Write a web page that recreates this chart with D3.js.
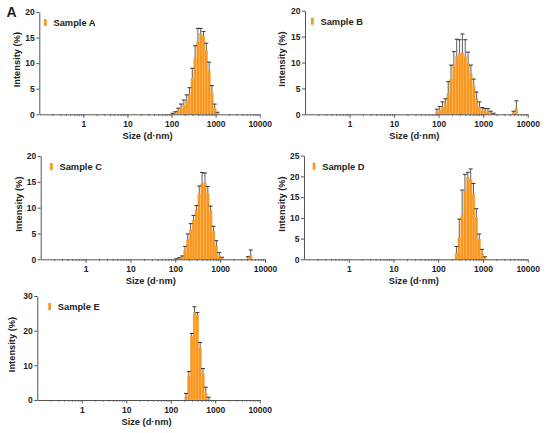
<!DOCTYPE html>
<html><head><meta charset="utf-8">
<script src="https://cdn.jsdelivr.net/npm/d3@7"></script>
<style>
body{margin:0;background:#fff}
svg{display:block}
text{font-family:"Liberation Sans",Arial,sans-serif;font-weight:bold;fill:#222}
</style>
</head><body><svg id="c" width="550" height="433"></svg>
<script>
const sampleNames = ["Sample A", "Sample B", "Sample C", "Sample D", "Sample E"];

const sizesA = [105.7, 122.4, 141.8, 164.2, 190.1, 220.2, 255.0, 295.3, 342.0, 396.1, 458.7, 531.2, 615.1, 712.4, 825.0, 955.4, 1106];
const meanA  = [0.1, 0.3, 0.7, 1.2, 1.8, 2.6, 4.0, 7.0, 11.0, 14.2, 15.8, 15.3, 12.5, 8.5, 4.2, 1.2, 0.2];
const sdA    = [0.1, 0.2, 0.5, 0.8, 1.0, 1.2, 1.2, 2.0, 2.4, 2.6, 1.0, 0.9, 1.4, 1.7, 1.4, 0.8, 0.2];

const sizesB = [91.3, 105.7, 122.4, 141.8, 164.2, 190.1, 220.2, 255.0, 295.3, 342.0, 396.1, 458.7, 531.2, 615.1, 712.4, 825.0, 955.4, 1106, 1281, 1484, 1718, 4801, 5560];
const meanB  = [0.5, 0.8, 1.4, 2.2, 4.0, 6.8, 9.5, 11.2, 11.8, 11.9, 11.2, 9.9, 7.8, 5.4, 3.0, 1.4, 0.8, 0.7, 0.6, 0.3, 0.1, 0.3, 1.2];
const sdB    = [0.5, 0.7, 1.0, 0.8, 2.3, 2.7, 2.6, 3.3, 2.6, 3.6, 3.2, 2.1, 1.7, 1.4, 1.3, 1.0, 0.5, 0.4, 0.5, 0.3, 0.1, 0.3, 1.4];

const sizesC = [105.7, 122.4, 141.8, 164.2, 190.1, 220.2, 255.0, 295.3, 342.0, 396.1, 458.7, 531.2, 615.1, 712.4, 825.0, 955.4, 1106, 4145, 4801];
const meanC  = [0.05, 0.15, 0.4, 1.8, 3.9, 5.8, 7.6, 9.6, 12.6, 14.6, 14.8, 12.8, 9.4, 5.5, 2.6, 0.8, 0.2, 0.2, 0.8];
const sdC    = [0.05, 0.15, 0.25, 0.7, 1.0, 1.1, 0.9, 0.8, 1.6, 2.2, 1.9, 1.3, 0.9, 0.9, 1.0, 0.5, 0.2, 0.3, 1.0];

const sizesD = [255.0, 295.3, 342.0, 396.1, 458.7, 531.2, 615.1, 712.4, 825.0, 955.4, 1106];
const meanD  = [1.5, 5.2, 10.5, 16.3, 19.7, 19.2, 15.8, 10.2, 4.9, 1.6, 0.3];
const sdD    = [1.6, 4.5, 6.2, 4.2, 1.3, 2.6, 2.5, 2.0, 1.2, 0.8, 0.3];

const sizesE = [220.2, 255.0, 295.3, 342.0, 396.1, 458.7, 531.2, 615.1, 712.4];
const meanE  = [0.9, 7.0, 18.3, 25.3, 24.6, 15.2, 7.6, 1.9, 0.4];
const sdE    = [1.0, 1.2, 0.9, 1.6, 0.6, 1.4, 1.5, 1.8, 0.4];

const xTickValues = [1, 10, 100, 1000, 10000];
const yTicksABC = [0, 5, 10, 15, 20];
const yTicksD = [0, 5, 10, 15, 20, 25];
const yTicksE = [0, 10, 20, 30];
const yMaxes = [20, 20, 20, 25, 30];

const seriesSizes = [sizesA, sizesB, sizesC, sizesD, sizesE];
const seriesMeans = [meanA, meanB, meanC, meanD, meanE];
const seriesSds = [sdA, sdB, sdC, sdD, sdE];
const seriesYTicks = [yTicksABC, yTicksABC, yTicksABC, yTicksD, yTicksE];

// layout (pixels)
const layouts = [
  {x0: 39.3, x1: 259.7, yTop: 12,    yBot: 114.3, legX: 44,    titleX: 16.5},
  {x0: 305,  x1: 527.7, yTop: 10.7,  yBot: 114.3, legX: 311,   titleX: 282},
  {x0: 40.7, x1: 265,   yTop: 156,   yBot: 259.3, legX: 50,    titleX: 19},
  {x0: 304,  x1: 527.7, yTop: 155.7, yBot: 259.3, legX: 312.7, titleX: 281.5},
  {x0: 37.3, x1: 259.7, yTop: 296,   yBot: 400,   legX: 48.3,  titleX: 11.5}
];

const svg = d3.select("#c");
const barFill = "#F9961E";
const axisColor = "#555";
const binRatio = 1.1583; // log-spaced bin ratio

svg.append("text").attr("x", 6.5).attr("y", 16.5).style("font-size", "14px").text("A");

layouts.forEach((L, i) => {
  const g = svg.append("g");
  const x = d3.scaleLog().domain([0.1, 10000]).range([L.x0, L.x1]);
  const y = d3.scaleLinear().domain([0, yMaxes[i]]).range([L.yBot, L.yTop]);
  const sizes = seriesSizes[i], means = seriesMeans[i], sds = seriesSds[i];
  const data = sizes.map((s, k) => ({s, m: means[k], sd: sds[k]}));

  // bars
  g.selectAll("rect.bar").data(data).join("rect")
    .attr("class", "bar")
    .attr("x", d => x(d.s / Math.sqrt(binRatio)))
    .attr("width", d => x(d.s * Math.sqrt(binRatio)) - x(d.s / Math.sqrt(binRatio)))
    .attr("y", d => y(d.m))
    .attr("height", d => L.yBot - y(d.m))
    .attr("fill", barFill)
    .attr("stroke", "#FBBE6E")
    .attr("stroke-width", 0.35);

  // error bars
  const eb = g.selectAll("g.eb").data(data).join("g").attr("class", "eb");
  eb.append("line")
    .attr("x1", d => x(d.s)).attr("x2", d => x(d.s))
    .attr("y1", d => y(d.m)).attr("y2", d => y(d.m + d.sd))
    .attr("stroke", "#333").attr("stroke-width", 0.8);
  eb.append("line")
    .attr("x1", d => x(d.s) - 2).attr("x2", d => x(d.s) + 2)
    .attr("y1", d => y(d.m + d.sd)).attr("y2", d => y(d.m + d.sd))
    .attr("stroke", "#333").attr("stroke-width", 1);

  // y axis
  const ya = g.append("g").attr("transform", `translate(${L.x0},0)`)
    .call(d3.axisLeft(y).tickValues(seriesYTicks[i]).tickSize(3).tickSizeOuter(0).tickPadding(1.5));
  ya.select(".domain").attr("stroke", axisColor).attr("stroke-width", 1);
  ya.selectAll(".tick line").attr("stroke", axisColor);
  ya.selectAll(".tick text").style("font-size", "8.5px").style("font-family", '"Liberation Sans",Arial,sans-serif').style("font-weight", "bold").attr("fill", "#222");

  // x axis minor ticks
  const minor = [];
  for (let dec = 0.1; dec < 10000; dec *= 10) {
    for (let m = 2; m <= 9; m++) minor.push(dec * m);
  }
  const xm = g.append("g").attr("transform", `translate(0,${L.yBot})`)
    .call(d3.axisBottom(x).tickValues(minor).tickSize(1.8).tickSizeOuter(0).tickFormat(""));
  xm.select(".domain").remove();
  xm.selectAll(".tick line").attr("stroke", axisColor).attr("stroke-width", 0.8);

  // x axis major
  const xa = g.append("g").attr("transform", `translate(0,${L.yBot})`)
    .call(d3.axisBottom(x).tickValues(xTickValues).tickSize(3.5).tickSizeOuter(0).tickPadding(3).tickFormat(d3.format("d")));
  xa.select(".domain").attr("stroke", axisColor).attr("stroke-width", 1);
  xa.selectAll(".tick line").attr("stroke", axisColor);
  xa.selectAll(".tick text").style("font-size", "8.5px").style("font-family", '"Liberation Sans",Arial,sans-serif').style("font-weight", "bold").attr("fill", "#222");

  // axis titles
  g.append("text").attr("x", (L.x0 + L.x1) / 2 - 2).attr("y", L.yBot + 25)
    .attr("text-anchor", "middle").style("font-size", "9.3px").text("Size (d\u00b7nm)");
  const cy = (L.yTop + L.yBot) / 2 - 3.5;
  g.append("text").attr("transform", `translate(${L.titleX + 3},${cy}) rotate(-90)`)
    .attr("text-anchor", "middle").style("font-size", "9.3px").text("Intensity (%)");

  // legend
  g.append("rect").attr("x", L.legX).attr("y", L.yTop + 7).attr("width", 2.7).attr("height", 7)
    .attr("fill", barFill);
  g.append("text").attr("x", L.legX + 9.5).attr("y", L.yTop + 14.3)
    .style("font-size", "9.3px").text(sampleNames[i]);
});
</script>
</body></html>
